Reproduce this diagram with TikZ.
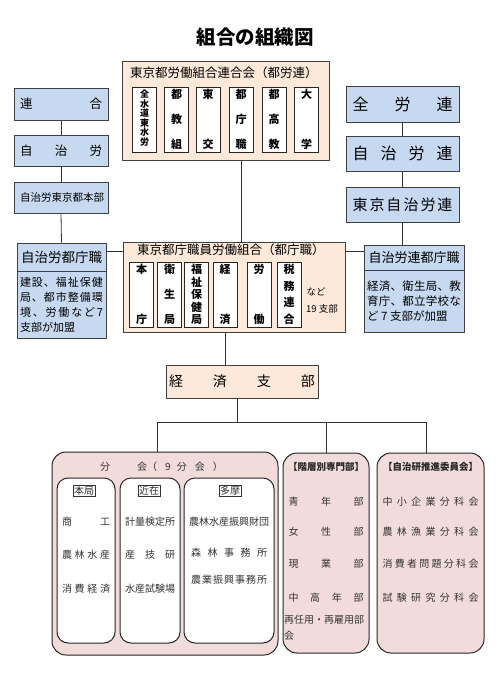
\documentclass[tikz,border=0pt]{standalone}
\usepackage{fontspec}
\setmainfont{Noto Sans CJK JP}
\definecolor{peachfill}{HTML}{FDE9D9}
\definecolor{bluefill}{HTML}{C6D9F1}
\definecolor{pinkfill}{HTML}{F2DCDB}
\definecolor{edgegray}{HTML}{404040}
\newcommand\kintou[2]{\makebox[#1][s]{\expandafter\kintouloop#2\relax}}
\def\kintouloop#1{\ifx\relax#1\else#1\expandafter\kintousep\fi}
\def\kintousep#1{\ifx\relax#1\else\hfill#1\expandafter\kintousep\fi}
\newcommand\tategaki[2]{\parbox[c][#1][s]{1.2em}{\centering\expandafter\tateloop#2\relax}}
\def\tateloop#1{\ifx\relax#1\else#1\expandafter\tatesep\fi}
\def\tatesep#1{\ifx\relax#1\else\par\vfill#1\expandafter\tatesep\fi}
\begin{document}
\begin{tikzpicture}[x=1pt,y=-1pt,
  peachbox/.style={draw=edgegray,fill=peachfill,line width=0.9pt,inner sep=0pt},
  bluebox/.style={draw=edgegray,fill=bluefill,line width=0.9pt,inner sep=0pt},
  pinkbox/.style={draw=black!85,fill=pinkfill,line width=1pt,rounded corners=14pt,inner sep=0pt},
  whitebox/.style={draw=black!85,fill=white,line width=1pt,rounded corners=11pt,inner sep=0pt},
  tatebox/.style={draw=black!85,fill=white,line width=0.8pt,inner sep=0pt,minimum width=24pt,minimum height=65pt,font=\bfseries\fontsize{11}{11}\selectfont},
  item/.style={font=\fontsize{10}{12}\selectfont,text=black!80,inner sep=0pt},
  heading/.style={font=\bfseries\fontsize{9.5}{11}\selectfont,text=black!85,inner sep=0pt},
  link/.style={draw=black!80,line width=0.8pt}]
  \useasboundingbox (0,0) rectangle (500,676);
  \node[font=\bfseries\fontsize{19.5}{22}\selectfont] (title) at (255,37) {組合の組織図};

  \node[peachbox,minimum width=207pt,minimum height=99pt] (tororen) at (225.5,110.5) {};
  \node[anchor=west,inner sep=0pt,font=\fontsize{12.5}{14}\selectfont] (tororen-t) at (130,73) {東京都労働組合連合会（都労連）};
  \node[tatebox] (tr1) at (144.5,119.5) {\parbox[c][59pt][t]{1.2em}{\centering\fontsize{9}{8.3}\selectfont 全\\水\\道\\東\\水\\労}};
  \foreach \x/\s [count=\i from 2] in {176.5/都教組,208/東交,241/都庁職,274/都高教,306.5/大学}
    \node[tatebox] (tr\i) at (\x,119.5) {\tategaki{59pt}{\s}};

  \node[bluebox,minimum width=94pt,minimum height=32pt,font=\fontsize{12.5}{14}\selectfont] (rengo) at (61,104) {\kintou{82pt}{連合}};
  \node[bluebox,minimum width=94pt,minimum height=31pt,font=\fontsize{12.5}{14}\selectfont] (jichiro) at (61,150.5) {\kintou{82pt}{自治労}};
  \node[bluebox,minimum width=94pt,minimum height=31pt,font=\fontsize{10.5}{12}\selectfont] (honbu) at (61,197.5) {\kintou{82pt}{自治労東京都本部}};
  \node[bluebox,minimum width=89pt,minimum height=28pt,font=\fontsize{13.5}{15}\selectfont] (jtc) at (61.5,257) {自治労都庁職};
  \node[bluebox,minimum width=89pt,minimum height=67pt,align=left,font=\fontsize{11}{15}\selectfont] (jtc-b) at (61.5,304.5)
    {\kintou{83pt}{建設、福祉保健}\\\kintou{83pt}{局、都市整備環}\\\kintou{83pt}{境、労働など7}\\支部が加盟};

  \node[bluebox,minimum width=113pt,minimum height=36pt,font=\fontsize{16}{18}\selectfont] (zenroren) at (402.5,104) {\kintou{100pt}{全労連}};
  \node[bluebox,minimum width=113pt,minimum height=35pt,font=\fontsize{16}{18}\selectfont] (jichiroren) at (402.5,153.5) {\kintou{100pt}{自治労連}};
  \node[bluebox,minimum width=113pt,minimum height=35pt,font=\fontsize{15}{17}\selectfont] (tokyojr) at (402.5,204.5) {\kintou{100pt}{東京自治労連}};
  \node[bluebox,minimum width=100pt,minimum height=25pt,font=\fontsize{13}{15}\selectfont] (jrt) at (414,257.5) {自治労連都庁職};
  \node[bluebox,minimum width=100pt,minimum height=62pt,align=left,font=\fontsize{11.5}{15}\selectfont] (jrt-b) at (414,301)
    {\kintou{94pt}{経済、衛生局、教}\\\kintou{94pt}{育庁、都立学校な}\\ど 7 支部が加盟};

  \node[peachbox,minimum width=222pt,minimum height=90pt] (tcs) at (234,287) {};
  \node[anchor=west,inner sep=0pt,font=\fontsize{12.5}{14}\selectfont] (tcs-t) at (137,250) {東京都庁職員労働組合（都庁職）};
  \foreach \x/\s [count=\i] in {141.5/本庁,169.5/衛生局,196.5/福祉保健局,225/経済,259/労働,289/税務連合}
    \node[tatebox] (tc\i) at (\x,294.5) {\tategaki{59pt}{\s}};
  \node[inner sep=0pt,font=\fontsize{9.5}{11}\selectfont] (nado) at (316,292) {など};
  \node[inner sep=0pt,font=\fontsize{9.5}{11}\selectfont] (nado-n) at (322,309) {19 支部};

  \node[peachbox,minimum width=152pt,minimum height=33pt,font=\fontsize{14}{16}\selectfont] (keizai) at (242,381.5) {\kintou{146pt}{経済支部}};

  \node[pinkbox,minimum width=226pt,minimum height=203pt] (bunkai) at (165,553.5) {};
  \node[item,anchor=west] (bunkai-t) at (100,467) {分\hspace{27pt}会（\hspace{8pt}9\hspace{6pt}分\hspace{8pt}会\hspace{8pt}）};
  \node[whitebox,minimum width=58pt,minimum height=165pt] (honkyoku) at (86,560.5) {};
  \node[whitebox,minimum width=60pt,minimum height=165pt] (kinzai) at (150,560.5) {};
  \node[whitebox,minimum width=90pt,minimum height=165pt] (tama) at (229,560.5) {};
  \node[item,draw=black!80,fill=white,inner sep=1pt] (honkyoku-t) at (84,491) {本局};
  \node[item,draw=black!80,fill=white,inner sep=1pt] (kinzai-t) at (149,491) {近在};
  \node[item,draw=black!80,fill=white,inner sep=1pt] (tama-t) at (230,491) {多摩};
  \node[item] (h1) at (86,522) {\kintou{48pt}{商工}};
  \node[item] (h2) at (86,555) {\kintou{48pt}{農林水産}};
  \node[item] (h3) at (86,589) {\kintou{48pt}{消費経済}};
  \node[item] (k1) at (150,522) {\kintou{50pt}{計量検定所}};
  \node[item] (k2) at (150,555) {\kintou{50pt}{産技研}};
  \node[item] (k3) at (150,589) {\kintou{50pt}{水産試験場}};
  \node[item] (t1) at (229,522) {\kintou{80pt}{農林水産振興財団}};
  \node[item] (t2) at (229,553) {\kintou{76pt}{森林事務所}};
  \node[item] (t3) at (229,580) {\kintou{76pt}{農業振興事務所}};

  \node[pinkbox,minimum width=86pt,minimum height=200pt] (kaiso) at (326,553) {};
  \node[heading] (kaiso-t) at (326,467) {【階層別専門部】};
  \foreach \y/\s [count=\i] in {502/青年部,532/女性部,564/現業部,598/中高年部}
    \node[item] (ks\i) at (326,\y) {\kintou{75pt}{\s}};
  \node[item,anchor=north west,align=left,font=\fontsize{10}{16}\selectfont] (ks5) at (284,615) {再任用・再雇用部\\会};

  \node[pinkbox,minimum width=107pt,minimum height=200pt] (jichiken) at (430.5,553) {};
  \node[heading] (jichiken-t) at (430.5,467) {【自治研推進委員会】};
  \foreach \y/\s [count=\i] in {502/中小企業分科会,532/農林漁業分科会,564/消費者問題分科会,598/試験研究分科会}
    \node[item] (jk\i) at (430.5,\y) {\kintou{96pt}{\s}};

  \draw[link] (tr4 |- tororen.south) -- (tr4 |- tcs.north);
  \draw[link] (rengo.south) -- (jichiro.north);
  \draw[link] (jichiro.south) -- (honbu.north);
  \draw[link] (honbu.south) -- (jtc.north);
  \draw[link] (zenroren.south) -- (jichiroren.north);
  \draw[link] (jichiroren.south) -- (tokyojr.north);
  \draw[link] (tokyojr.south) -- (tokyojr.south |- jrt.north);
  \coordinate (mid) at (0,251);
  \draw[link] (jtc.east |- mid) -- (tcs.west |- mid);
  \draw[link] (tcs.east |- mid) -- (jrt.west |- mid);
  \draw[link] (tc4 |- tcs.south) -- (tc4 |- keizai.north);
  \coordinate (bus) at (0,422);
  \draw[link] ([xshift=-5pt]keizai.south) -- ([xshift=-5pt]keizai.south |- bus);
  \draw[link] ([xshift=-8pt]bunkai.north) |- ([xshift=-4pt]jichiken.north |- bus) -- ([xshift=-4pt]jichiken.north);
  \draw[link] (kaiso.north) -- (kaiso.north |- bus);
\end{tikzpicture}
\end{document}
